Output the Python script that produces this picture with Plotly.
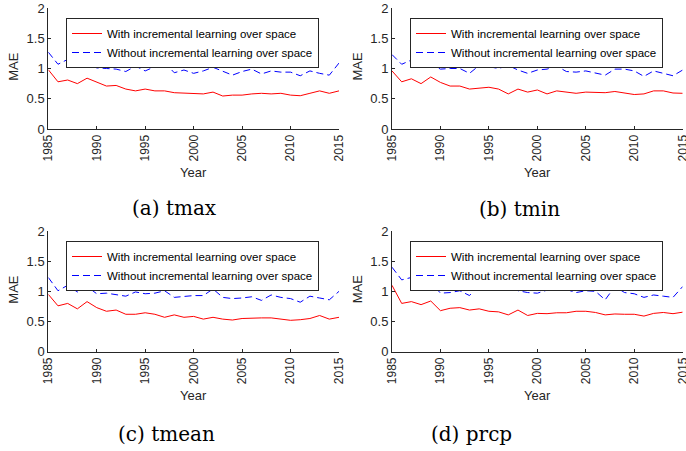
import plotly.graph_objects as go

years = list(range(1985, 2016))

tmax_with = [0.98, 0.78, 0.81, 0.75, 0.84, 0.77, 0.71, 0.72, 0.66, 0.63, 0.66, 0.63, 0.63, 0.60, 0.595, 0.595,
             0.58, 0.61, 0.545, 0.56, 0.56, 0.58, 0.59, 0.58, 0.59, 0.56, 0.55, 0.59, 0.63, 0.59, 0.63]
tmax_without = [1.27, 1.07, 1.15, 1.03, 1.10, 1.01, 1.00, 0.99, 0.95, 1.04, 0.96, 1.03, 1.10, 0.93, 0.975, 0.92,
                0.96, 1.02, 0.95, 0.89, 0.95, 0.99, 0.91, 0.96, 0.94, 0.94, 0.88, 0.96, 0.92, 0.89, 1.09]
tmin_with = [0.96, 0.78, 0.83, 0.75, 0.86, 0.77, 0.71, 0.71, 0.66, 0.67, 0.69, 0.66, 0.58, 0.66, 0.61, 0.645,
             0.58, 0.63, 0.61, 0.59, 0.61, 0.60, 0.60, 0.62, 0.60, 0.57, 0.58, 0.63, 0.63, 0.595, 0.59]
tmin_without = [1.23, 1.07, 1.14, 1.03, 1.07, 0.99, 1.00, 1.00, 0.92, 1.05, 1.03, 1.00, 1.05, 0.975, 0.92, 0.975,
                0.99, 1.04, 0.95, 0.94, 0.96, 0.93, 0.89, 0.99, 0.99, 0.96, 0.87, 0.96, 0.92, 0.88, 0.975]
tmean_with = [0.95, 0.76, 0.80, 0.71, 0.83, 0.73, 0.67, 0.69, 0.62, 0.62, 0.645, 0.62, 0.57, 0.61, 0.57, 0.585,
              0.54, 0.57, 0.54, 0.525, 0.55, 0.56, 0.56, 0.56, 0.54, 0.52, 0.53, 0.55, 0.60, 0.54, 0.57]
tmean_without = [1.23, 1.01, 1.10, 0.99, 1.08, 0.96, 0.97, 0.94, 0.92, 0.99, 0.96, 0.97, 1.01, 0.90, 0.92, 0.93,
                 0.93, 1.04, 0.90, 0.88, 0.89, 0.91, 0.85, 0.94, 0.90, 0.88, 0.82, 0.92, 0.89, 0.86, 1.00]
prcp_with = [1.10, 0.80, 0.83, 0.78, 0.84, 0.68, 0.72, 0.73, 0.69, 0.71, 0.67, 0.66, 0.61, 0.69, 0.60, 0.635,
             0.63, 0.645, 0.645, 0.67, 0.67, 0.65, 0.61, 0.625, 0.62, 0.62, 0.59, 0.635, 0.65, 0.63, 0.655]
prcp_without = [1.40, 1.19, 1.23, 1.11, 1.15, 0.97, 0.98, 1.01, 0.93, 1.12, 1.08, 1.09, 1.12, 1.01, 0.98, 0.97,
                1.02, 1.05, 1.03, 0.98, 1.01, 1.00, 0.86, 1.08, 0.98, 0.96, 0.90, 0.94, 0.92, 0.90, 1.08]

captions = ["(a) tmax", "(b) tmin", "(c) tmean", "(d) prcp"]
name_with = "With incremental learning over space"
name_without = "Without incremental learning over space"
x_ticks = [1985, 1990, 1995, 2000, 2005, 2010, 2015]
y_ticks = [0, 0.5, 1, 1.5, 2]

W, H = 686, 451
# (x range px, y range px, caption centre px)
panels = [
    (tmax_with, tmax_without, (48.3, 339.0), (8.0, 129.0), (174, 207.5)),
    (tmin_with, tmin_without, (392.0, 682.7), (8.0, 129.0), (519, 209)),
    (tmean_with, tmean_without, (48.3, 339.0), (231.0, 351.7), (166, 434)),
    (prcp_with, prcp_without, (392.0, 682.7), (231.0, 351.7), (471.5, 434)),
]

axcol = "#262626"
sans = "Liberation Sans, Arial, sans-serif"
fig = go.Figure()
layout = dict(width=W, height=H, margin=dict(l=0, r=0, t=0, b=0, autoexpand=False),
              paper_bgcolor="white", plot_bgcolor="white", showlegend=True,
              font=dict(family=sans, color=axcol))
annotations = []
for i, (w, wo, (x0, x1), (y0, y1), (cx, cy)) in enumerate(panels):
    k = "" if i == 0 else str(i + 1)
    leg = "legend" + k
    fig.add_trace(go.Scatter(x=years, y=w, mode="lines", name=name_with,
                             legendgroup=f"g{i}a", uid=f"with{i}",
                             line=dict(color="#ff0000", width=1), xaxis="x" + k, yaxis="y" + k,
                             legend=leg))
    fig.add_trace(go.Scatter(x=years, y=wo, mode="lines", name=name_without,
                             legendgroup=f"g{i}b", uid=f"without{i}",
                             line=dict(color="#0000ff", width=1, dash="7px,4px"), xaxis="x" + k,
                             yaxis="y" + k, legend=leg))
    common = dict(showline=True, linecolor=axcol, linewidth=1, ticks="inside", ticklen=3,
                  tickcolor=axcol, showgrid=False, zeroline=False, automargin=False,
                  ticklabeloverflow="allow")
    layout["xaxis" + k] = dict(domain=[x0 / W, x1 / W], anchor="y" + k, range=[1985, 2015],
                               tickmode="array", tickvals=x_ticks, tickangle=-90,
                               tickfont=dict(size=12, color=axcol), **common)
    layout["yaxis" + k] = dict(domain=[1 - y1 / H, 1 - y0 / H], anchor="x" + k, range=[0, 2],
                               tickmode="array", tickvals=y_ticks,
                               tickfont=dict(size=13, color=axcol), **common)
    lx0 = round(x0 + 17.7)
    ly0 = round(y0 + 10)
    layout[leg] = dict(x=lx0 / W, y=1 - ly0 / H, xanchor="left", yanchor="top",
                       bgcolor="white", bordercolor="#262626", borderwidth=1,
                       font=dict(size=11.5, color="#000000"), tracegroupgap=0,
                       itemwidth=30)
    annotations.append(dict(text="Year", x=(x0 + x1) / 2 / W, y=1 - (y1 + 44) / H,
                            xref="paper", yref="paper", showarrow=False,
                            xanchor="center", yanchor="middle",
                            font=dict(family=sans, size=13, color=axcol)))
    annotations.append(dict(text="MAE", x=(x0 - 35) / W, y=1 - ((y0 + y1) / 2 - 2) / H,
                            xref="paper", yref="paper", showarrow=False, textangle=-90,
                            xanchor="center", yanchor="middle",
                            font=dict(family=sans, size=13, color=axcol)))
    annotations.append(dict(text=captions[i], x=cx / W, y=1 - cy / H,
                            xref="paper", yref="paper", showarrow=False,
                            xanchor="center", yanchor="middle",
                            font=dict(family="DejaVu Serif, serif", size=20, color="#000000")))
layout["annotations"] = annotations
fig.update_layout(**layout)

post = "document.body.style.margin='0px';"
fig.write_html("out.html", config={"displayModeBar": False}, post_script=post)
